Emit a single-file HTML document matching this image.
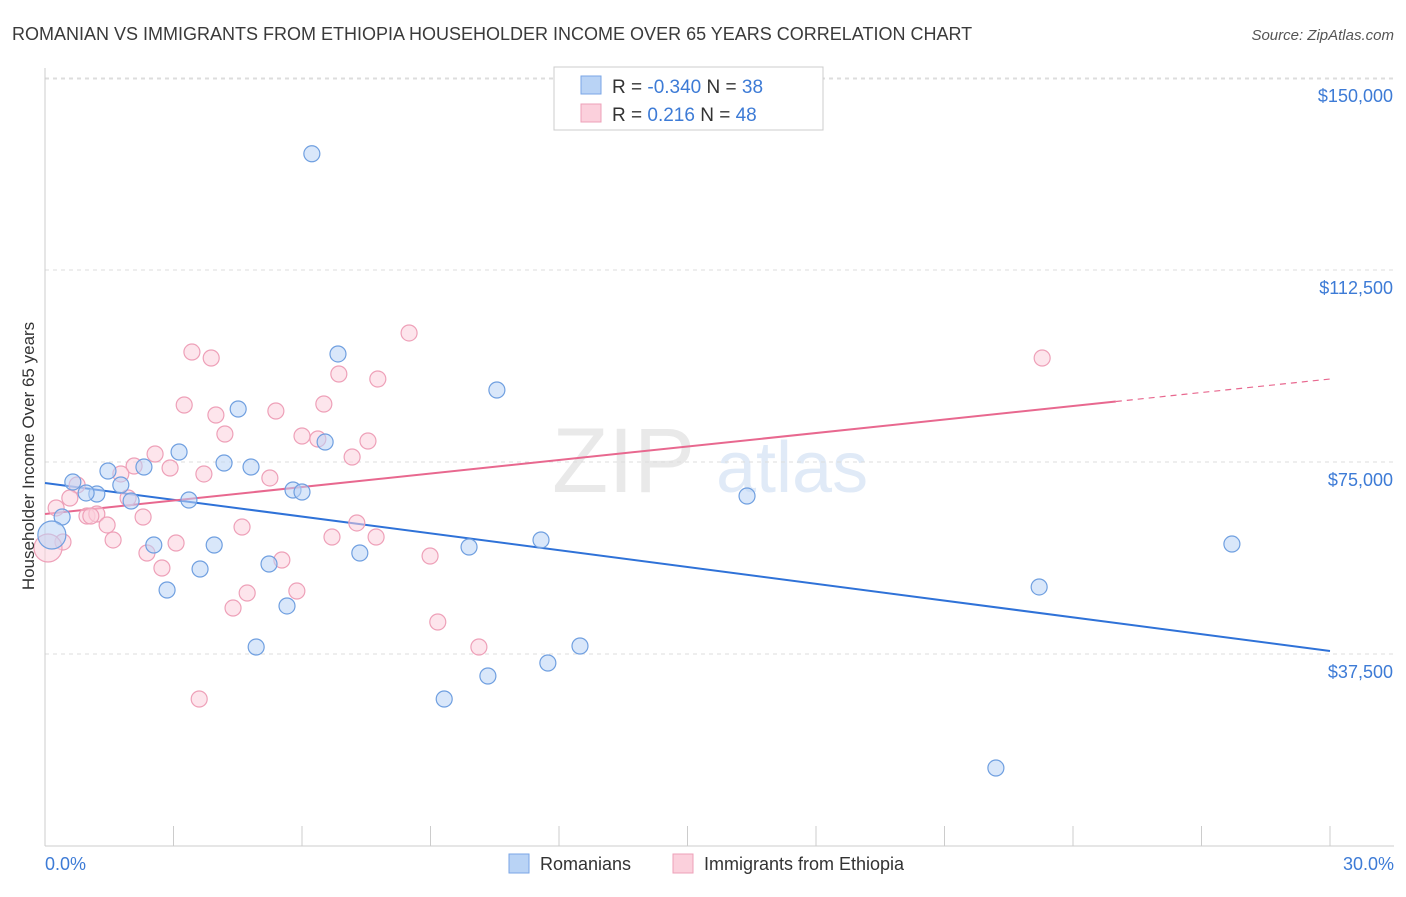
<!DOCTYPE html>
<html><head><meta charset="utf-8"><style>
body{margin:0;background:#fff;font-family:"Liberation Sans",sans-serif;}
svg text{font-family:"Liberation Sans",sans-serif;}
</style></head><body>
<svg id="chart" width="1406" height="892" viewBox="0 0 1406 892" xmlns="http://www.w3.org/2000/svg">
<text x="12" y="40" font-size="18" fill="#3a3a3a">ROMANIAN VS IMMIGRANTS FROM ETHIOPIA HOUSEHOLDER INCOME OVER 65 YEARS CORRELATION CHART</text>
<text x="1394" y="40" font-size="15" fill="#555" font-style="italic" text-anchor="end">Source: ZipAtlas.com</text>
<g opacity="0.18">
<text x="552" y="492" font-size="92" font-family="Liberation Serif" fill="#888">ZIP</text>
<text x="716" y="492" font-size="72" fill="#5b8fd6">atlas</text>
</g>
<g id="grid"></g><g id="axes"></g><g id="trends"></g><g id="points"></g>
<text transform="translate(34,456) rotate(-90)" font-size="17" fill="#333" text-anchor="middle">Householder Income Over 65 years</text>
<text x="45" y="870" font-size="18" fill="#3d7bd6">0.0%</text>
<text x="1394" y="870" font-size="18" fill="#3d7bd6" text-anchor="end">30.0%</text>
<g>
<rect x="554" y="67" width="269" height="63" fill="#fff" stroke="#ccc"/>
<rect x="581" y="76" width="20" height="18" fill="#b9d3f5" stroke="#7aa6e6"/>
<rect x="581" y="104" width="20" height="18" fill="#fbd0dc" stroke="#eea0b8"/>
<text x="612" y="93" font-size="19" fill="#333">R = <tspan fill="#3d7bd6">-0.340</tspan>   N = <tspan fill="#3d7bd6">38</tspan></text>
<text x="612" y="121" font-size="19" fill="#333">R =   <tspan fill="#3d7bd6">0.216</tspan>   N = <tspan fill="#3d7bd6">48</tspan></text>
</g>
<g>
<rect x="509" y="854" width="20" height="19" fill="#b9d3f5" stroke="#7aa6e6"/>
<text x="540" y="870" font-size="18" fill="#333">Romanians</text>
<rect x="673" y="854" width="20" height="19" fill="#fbd0dc" stroke="#eea0b8"/>
<text x="704" y="870" font-size="18" fill="#333">Immigrants from Ethiopia</text>
</g>
</svg>
<script>
const yTicks=[37500,75000,112500,150000];
const yTickLabels=["$37,500","$75,000","$112,500","$150,000"];
const xTicks=[0,3,6,9,12,15,18,21,24,27,30];
const blueX=[6.23,6.84,10.55,4.51,3.13,4.18,4.81,1.47,2.31,0.65,1.77,1.21,0.96,2.01,3.36,5.79,6.00,6.54,16.39,0.40,0.16,2.54,3.95,9.90,11.58,7.35,27.71,3.62,5.23,2.85,5.65,4.93,12.49,11.74,10.34,9.32,23.21,22.20];
const blueY=[135200,96100,89060,85350,76950,74800,74020,73240,74020,71090,70510,68750,68950,67380,67580,69530,69140,78900,68360,64260,60740,58790,58790,58400,59770,57230,58980,54100,55080,50000,46880,38870,39060,35740,33200,28710,50590,15230];
const pinkX=[8.50,23.28,3.43,3.88,6.86,7.77,3.25,6.51,3.99,5.39,4.20,6.00,6.37,7.54,7.17,2.57,2.08,2.92,3.71,5.25,1.77,0.75,0.58,0.26,1.94,2.29,0.98,1.21,1.07,1.45,4.60,7.28,1.59,3.06,0.42,6.70,7.73,2.38,2.73,5.53,8.99,5.88,4.72,4.39,9.17,10.13,3.60,0.07];
const pinkY=[100200,95310,96480,95310,92190,91210,86130,86330,84180,84960,80470,80080,79490,79100,75980,76560,74220,73830,72660,71880,72660,70510,67970,66020,67970,64260,64450,64840,64450,62700,62300,63090,59770,59180,59380,60350,60350,57230,54300,55860,56640,49800,49410,46480,43750,38870,28710,58200];
const blueTrend=[70900,38090];
const pinkTrend=[64840,91210];
const pinkSolidEnd=25.0;
const NS="http://www.w3.org/2000/svg";
const X=v=>45+v/30*1285;
const Y=v=>846-v/37500*192;
function mk(tag,attrs,parent){const e=document.createElementNS(NS,tag);for(const k in attrs)e.setAttribute(k,attrs[k]);parent.appendChild(e);return e;}
const grid=document.getElementById('grid'),axes=document.getElementById('axes'),tr=document.getElementById('trends'),pts=document.getElementById('points');
yTicks.forEach((t,i)=>{
 const l=mk('line',{x1:45,x2:1394,y1:Y(t),y2:Y(t),stroke:'#ddd','stroke-dasharray':'4,4'},grid);
 
 
 const tx=mk('text',{x:1393,y:Y(t)+24,'font-size':18,fill:'#3d7bd6','text-anchor':'end'},grid);
 tx.textContent=yTickLabels[i];
 
 
});
const tg=mk('line',{x1:45,x2:1394,y1:79,y2:79,stroke:'#ddd','stroke-dasharray':'4,4'},grid);


const ya=mk('line',{x1:45,x2:45,y1:68,y2:846,stroke:'#ccc'},axes);


const xa=mk('line',{x1:45,x2:1394,y1:846,y2:846,stroke:'#ccc'},axes);


xTicks.forEach(t=>{
 const l=mk('line',{x1:X(t),x2:X(t),y1:826,y2:846,stroke:'#ccc'},axes);
 
 
});
function drawPts(xs,ys,fill,stroke,name){
 xs.forEach((x,i)=>{
  const big=(name==='romanian-point'&&i===20)||(name==='ethiopia-point'&&i===47);
  const c=mk('circle',{cx:X(x),cy:Y(ys[i]),r:big?14:8,fill:fill,'fill-opacity':0.55,stroke:stroke,'stroke-width':1.2},pts);
  
  
 });
}
const bl=mk('line',{x1:X(0),y1:Y(blueTrend[0]),x2:X(30),y2:Y(blueTrend[1]),stroke:'#2f72d8','stroke-width':2},tr);


const pAt=x=>pinkTrend[0]+(pinkTrend[1]-pinkTrend[0])*x/30;
const pl=mk('line',{x1:X(0),y1:Y(pinkTrend[0]),x2:X(pinkSolidEnd),y2:Y(pAt(pinkSolidEnd)),stroke:'#e8688f','stroke-width':2},tr);


const pd=mk('line',{x1:X(pinkSolidEnd),y1:Y(pAt(pinkSolidEnd)),x2:X(30),y2:Y(pinkTrend[1]),stroke:'#e8688f','stroke-width':1.2,'stroke-dasharray':'6,5'},tr);


drawPts(pinkX,pinkY,'#fbd0dc','#eea0b8','ethiopia-point');
drawPts(blueX,blueY,'#b9d3f5','#6f9fe0','romanian-point');
</script>
</body></html>
